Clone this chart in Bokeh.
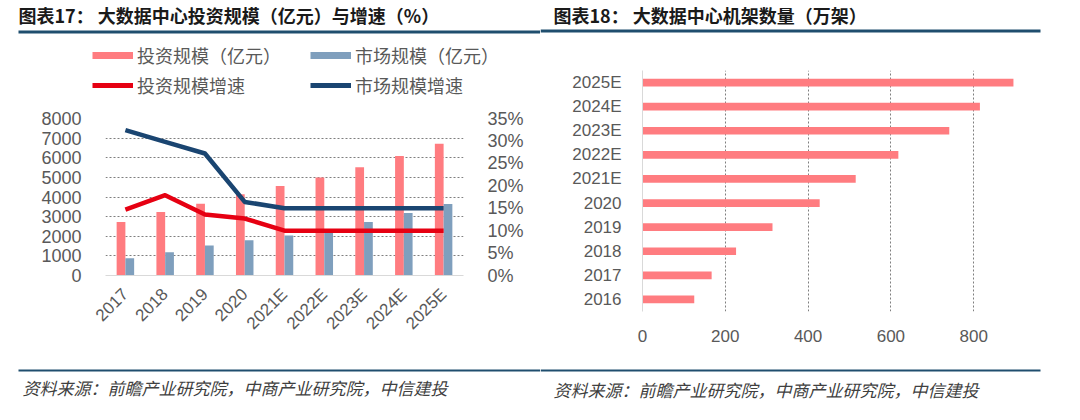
import math
from bokeh.plotting import figure
from bokeh.layouts import column, row
from bokeh.models import (ColumnDataSource, FactorRange, Range1d, LinearAxis, FixedTicker,
                          NumeralTickFormatter, Legend, LegendItem, Label, BoxAnnotation)
from bokeh.transform import dodge
from bokeh.embed import file_html
from bokeh.resources import INLINE

# ---------------- data ----------------
years = ["2017", "2018", "2019", "2020", "2021E", "2022E", "2023E", "2024E", "2025E"]
invest_scale = [2720, 3230, 3660, 4140, 4560, 4990, 5510, 6090, 6710]      # 投资规模（亿元）
market_scale = [885, 1190, 1530, 1790, 2040, 2350, 2720, 3180, 3640]       # 市场规模（亿元）
invest_growth = [0.147, 0.179, 0.136, 0.127, 0.10, 0.10, 0.10, 0.10, 0.10]  # 投资规模增速
market_growth = [0.324, 0.298, 0.272, 0.164, 0.15, 0.15, 0.15, 0.15, 0.15]  # 市场规模增速
left_ticks = [0, 1000, 2000, 3000, 4000, 5000, 6000, 7000, 8000]
pct_ticks = [0, 0.05, 0.10, 0.15, 0.20, 0.25, 0.30, 0.35]

rack_years = ["2016", "2017", "2018", "2019", "2020", "2021E", "2022E", "2023E", "2024E", "2025E"]
racks = [125, 167, 226, 314, 428, 515, 618, 741, 815, 896]                 # 机架数量（万架）
rack_ticks = [0, 200, 400, 600, 800]

title_left = "图表17： 大数据中心投资规模（亿元）与增速（%）"
title_right = "图表18： 大数据中心机架数量（万架）"
source_text = "资料来源：前瞻产业研究院，中商产业研究院，中信建投"
legend_labels = ["投资规模（亿元）", "市场规模（亿元）", "投资规模增速", "市场规模增速"]

# ---------------- style ----------------
PINK = "#FF7C80"
BLUEGRAY = "#7F9FBD"
RED = "#E60012"
NAVY = "#1A4571"
RULE = "#1F4E6E"
GRID = "#7F7F7F"
TXT = "#595959"
CJK = "Noto Sans CJK SC"
MIX = "Liberation Sans, Noto Sans CJK SC"
NUM = "Liberation Sans"
WL = 540
WR = 524
NAN = float("nan")


def blank(w, h):
    f = figure(width=w, height=h, x_range=Range1d(0, w), y_range=Range1d(h, 0),
               x_axis_location=None, y_axis_location=None, output_backend="svg",
               toolbar_location=None, min_border=0)
    f.grid.visible = False
    f.outline_line_color = None
    return f


def banner(w, h, text, text_x, text_y, font_size, rule_left, rule_right, rule_top, rule_bottom,
           style, color):
    f = blank(w, h)
    f.add_layout(BoxAnnotation(left=rule_left, right=rule_right, top=rule_top, bottom=rule_bottom,
                               fill_color=RULE, fill_alpha=1, line_color=None))
    f.add_layout(Label(x=text_x, y=text_y, text=text, text_font=CJK, text_font_size=font_size,
                       text_font_style=style, text_color=color, text_baseline="middle"))
    return f


h1 = banner(WL, 38, title_left, 18, 14, "18px", 18, WL, 30, 33, "bold", "#1A1A1A")
h2 = banner(WR, 38, title_right, 13, 14, "18px", 0, 500, 29, 32, "bold", "#1A1A1A")
f1 = banner(WL, 36, source_text, 22, 19, "17px", 18, WL, 1, 3, "italic", "#404040")
f2 = banner(WR, 36, source_text, 13, 21, "17px", 0, 500, 1, 3, "italic", "#404040")

# ---------------- legend strip (left chart) ----------------
lg_fig = blank(WL, 60)
d_inv = lg_fig.line(x=[NAN], y=[NAN], line_width=7, line_color=PINK)
d_mkt = lg_fig.line(x=[NAN], y=[NAN], line_width=7, line_color=BLUEGRAY)
d_invg = lg_fig.line(x=[NAN], y=[NAN], line_width=5, line_color=RED)
d_mktg = lg_fig.line(x=[NAN], y=[NAN], line_width=5, line_color=NAVY)


def make_legend(items, loc):
    return Legend(items=items, location=loc, orientation="vertical",
                  label_text_font=MIX, label_text_font_size="18px", label_text_color=TXT,
                  glyph_width=41, glyph_height=20, label_height=20, label_standoff=4,
                  spacing=4, padding=0, margin=0, border_line_color=None,
                  background_fill_alpha=0)


lg_fig.add_layout(make_legend([LegendItem(label=legend_labels[0], renderers=[d_inv]),
                               LegendItem(label=legend_labels[2], renderers=[d_invg])], (92, 0)))
lg_fig.add_layout(make_legend([LegendItem(label=legend_labels[1], renderers=[d_mkt]),
                               LegendItem(label=legend_labels[3], renderers=[d_mktg])], (310, 0)))

# ---------------- left chart ----------------
src = ColumnDataSource(dict(year=years, inv=invest_scale, mkt=market_scale,
                            inv_g=invest_growth, mkt_g=market_growth))
p1 = figure(width=WL, height=270, x_range=FactorRange(factors=years), y_range=Range1d(0, 8000),
            output_backend="svg", toolbar_location=None,
            min_border_left=105, min_border_right=77, min_border_top=20, min_border_bottom=93)
p1.extra_y_ranges = {"pct": Range1d(0, 0.35)}
p1.outline_line_color = None
p1.xgrid.visible = False
p1.ygrid.ticker = FixedTicker(ticks=left_ticks[1:])
p1.ygrid.grid_line_color = GRID
p1.ygrid.grid_line_dash = "2 2"
p1.ygrid.grid_line_width = 1

p1.vbar(x=dodge("year", -0.11, range=p1.x_range), top="inv", width=0.22, source=src,
        fill_color=PINK, line_color=None)
p1.vbar(x=dodge("year", 0.11, range=p1.x_range), top="mkt", width=0.22, source=src,
        fill_color=BLUEGRAY, line_color=None)
p1.line(x="year", y="mkt_g", source=src, y_range_name="pct", line_width=4.5, line_color=NAVY,
        line_join="round")
p1.line(x="year", y="inv_g", source=src, y_range_name="pct", line_width=4.5, line_color=RED,
        line_join="round")

ax_r = LinearAxis(y_range_name="pct", ticker=FixedTicker(ticks=pct_ticks),
                  formatter=NumeralTickFormatter(format="0%"))
p1.add_layout(ax_r, "right")

for ax in (p1.yaxis[0], ax_r):
    ax.axis_line_color = None
    ax.major_tick_line_color = None
    ax.minor_tick_line_color = None
    ax.major_label_text_font = NUM
    ax.major_label_text_font_size = "18px"
    ax.major_label_text_color = TXT
    ax.major_label_standoff = 18
p1.yaxis[0].ticker = FixedTicker(ticks=left_ticks)

xa = p1.xaxis[0]
xa.axis_line_color = "#D9D9D9"
xa.major_tick_line_color = None
xa.minor_tick_line_color = None
xa.major_label_orientation = math.pi / 4
xa.major_label_text_font = NUM
xa.major_label_text_font_size = "17px"
xa.major_label_text_color = TXT
xa.major_label_standoff = 10

# ---------------- right chart ----------------
src2 = ColumnDataSource(dict(year=rack_years, racks=racks))
p2 = figure(width=WR, height=330, y_range=FactorRange(factors=rack_years), x_range=Range1d(0, 1000),
            output_backend="svg", toolbar_location=None,
            min_border_left=102, min_border_right=8, min_border_top=32, min_border_bottom=57)
p2.outline_line_color = None
p2.ygrid.visible = False
p2.xgrid.ticker = FixedTicker(ticks=rack_ticks[1:])
p2.xgrid.grid_line_color = GRID
p2.xgrid.grid_line_dash = "2 2"
p2.xgrid.grid_line_width = 1
p2.hbar(y="year", right="racks", height=0.32, source=src2, fill_color=PINK, line_color=None)

xb = p2.xaxis[0]
xb.ticker = FixedTicker(ticks=rack_ticks)
xb.axis_line_color = None
yb = p2.yaxis[0]
yb.axis_line_color = "#D9D9D9"
for ax in (xb, yb):
    ax.major_tick_line_color = None
    ax.minor_tick_line_color = None
    ax.major_label_text_font = NUM
    ax.major_label_text_font_size = "17px"
    ax.major_label_text_color = TXT
xb.major_label_standoff = 12
yb.major_label_standoff = 15

left_block = column(row(lg_fig), row(p1))
layout = column(row(h1, h2), row(left_block, p2), row(f1, f2))
open("out.html", "w").write(file_html(layout, INLINE))
